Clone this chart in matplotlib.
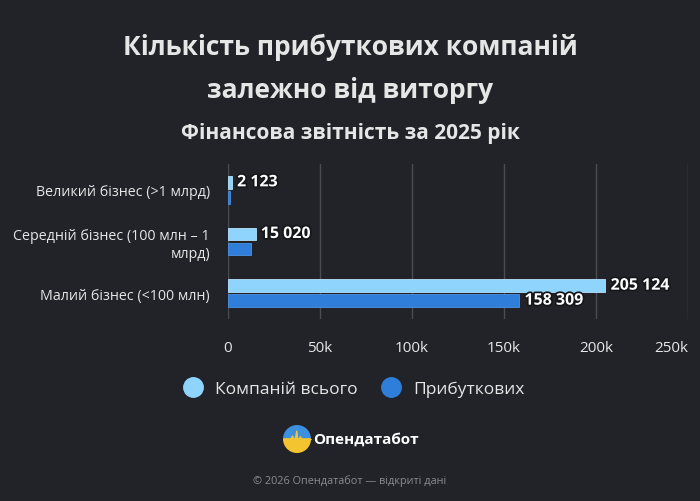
import matplotlib
matplotlib.use("Agg")
import matplotlib.pyplot as plt
import matplotlib.patheffects as pe
from matplotlib.lines import Line2D
from matplotlib.patches import Wedge
import numpy as np

plt.rcParams['font.family'] = ['Open Sans', 'DejaVu Sans']

categories = ["Великий бізнес (>1 млрд)", "Середній бізнес (100 млн – 1\nмлрд)", "Малий бізнес (<100 млн)"]
total = [2123, 15020, 205124]
profitable = [1100, 12500, 158309]
series_names = ["Компаній всього", "Прибуткових"]
x_ticks = [0, 50000, 100000, 150000, 200000, 250000]
x_tick_labels = ["0", "50k", "100k", "150k", "200k", "250k"]

bg = "#212328"
light = "#8fd4fc"
dark = "#2f7fda"
text_col = "#e6e6e6"

def fmt(v):
    return f"{v:,}".replace(",", " ")

fig = plt.figure(figsize=(7, 5.02), dpi=100, facecolor=bg)
ax = fig.add_axes([228 / 700, 1 - 320 / 502, 460 / 700, 155 / 502])
ax.set_facecolor(bg)

y = np.arange(len(categories))
h = 0.25
ax.barh(y - 0.145, total, height=h, color=light, edgecolor="#b5e3ff", linewidth=0.6)
ax.barh(y + 0.145, profitable, height=h, color=dark, edgecolor="#4a93e6", linewidth=0.6)

stroke = [pe.withStroke(linewidth=2.5, foreground="#15171a")]
for i in range(len(categories)):
    ax.text(total[i] + 2800, y[i] - 0.145, fmt(total[i]), va="center", ha="left",
            color="white", fontsize=11.5, fontweight="bold", path_effects=stroke)
    if profitable[i] > 50000:
        ax.text(profitable[i] + 2800, y[i] + 0.145, fmt(profitable[i]), va="center", ha="left",
                color="white", fontsize=11.5, fontweight="bold", path_effects=stroke)

ax.set_xlim(0, 250000)
ax.set_ylim(2.5, -0.5)
ax.set_xticks(x_ticks)
ax.set_xticklabels(x_tick_labels, color=text_col, fontsize=11)
ax.get_xticklabels()[-1].set_ha("right")
ax.set_yticks(y)
ax.set_yticklabels(categories, color=text_col, fontsize=10.3)
ax.tick_params(axis="both", length=0)
ax.tick_params(axis="x", pad=15)
ax.tick_params(axis="y", pad=13)
ax.grid(axis="x", color="#4a4c50", linewidth=1)
ax.set_axisbelow(True)
for s in ax.spines.values():
    s.set_visible(False)

fig.text(0.5, 1 - 47 / 502, "Кількість прибуткових компаній", ha="center", va="center",
         color=text_col, fontsize=19, fontweight="bold")
fig.text(0.5, 1 - 90 / 502, "залежно від виторгу", ha="center", va="center",
         color=text_col, fontsize=19, fontweight="bold")
fig.text(0.5, 1 - 134 / 502, "Фінансова звітність за 2025 рік", ha="center", va="center",
         color=text_col, fontsize=15, fontweight="bold")

handles = [Line2D([0], [0], marker="o", linestyle="", markersize=14, markerfacecolor=c,
                  markeredgecolor=c) for c in (light, dark)]
fig.legend(handles, series_names, loc="center", bbox_to_anchor=(0.5, 1 - 390 / 502), ncol=2,
           frameon=False, fontsize=12.5, labelcolor=text_col, handletextpad=0.3,
           columnspacing=0.9)

# logo
lax = fig.add_axes([283 / 700, 1 - 454 / 502, 28 / 700, 28 / 502])
lax.set_xlim(-1, 1)
lax.set_ylim(-1, 1)
lax.set_aspect("equal")
lax.axis("off")
lax.add_patch(Wedge((0, 0), 0.95, 0, 180, color="#3d8fe0"))
lax.add_patch(Wedge((0, 0), 0.95, 180, 360, color="#f4c430"))
wx = [-0.95, -0.5, -0.35, -0.2, -0.05, 0.05, 0.2, 0.35, 0.5, 0.95]
wy = [0.0, 0.0, 0.25, -0.2, 0.6, -0.35, 0.2, -0.1, 0.0, 0.0]
lax.fill_between(wx, wy, 0, color="#f4c430")
fig.text(313 / 700, 1 - 440 / 502, "Опендатабот", ha="left", va="center",
         color="white", fontsize=11, fontweight="bold")

fig.text(0.5, 1 - 481 / 502, "© 2026 Опендатабот — відкриті дані", ha="center", va="center",
         color="#8a8c90", fontsize=7.8)

fig.savefig("out.png", dpi=100, facecolor=bg)
